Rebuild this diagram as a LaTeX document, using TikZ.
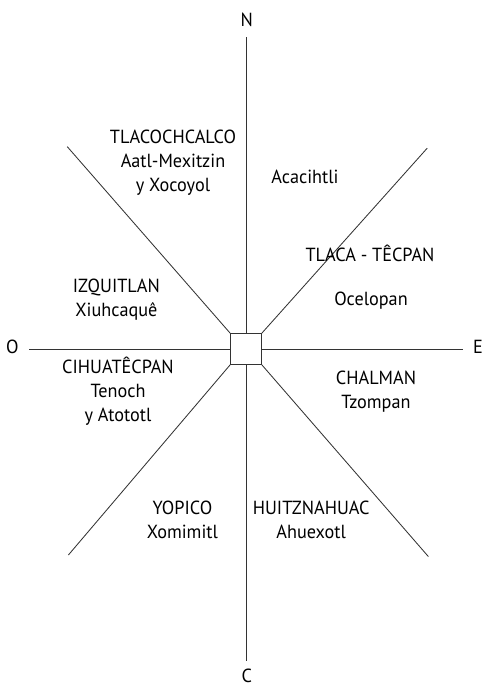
\documentclass[tikz,border=0pt]{standalone}
\usepackage{fontspec}
\setmainfont{PT Sans}[FakeStretch=0.96]
\begin{document}
\begin{tikzpicture}[
    eje/.style={draw=black!80, line width=0.6pt},
    barrio/.style={align=center, inner sep=0pt, font=\fontsize{13.5}{17}\selectfont}
  ]
  \useasboundingbox (-6.15,-8.425) rectangle (5.95,8.725);

  % centro
  \node[eje, minimum size=0.775cm, inner sep=0pt] (centro) at (0,0) {};

  % extremos de los ejes
  \coordinate (pN) at (0,7.8);
  \coordinate (pC) at (0,-7.8);
  \coordinate (pO) at (-5.425,0);
  \coordinate (pE) at (5.425,0);
  \coordinate (pNO) at (-4.47,5.06);
  \coordinate (pNE) at (4.53,5.02);
  \coordinate (pSO) at (-4.44,-5.15);
  \coordinate (pSE) at (4.56,-5.19);

  \foreach \a/\p in {north/pN, south/pC, west/pO, east/pE,
                     north west/pNO, north east/pNE, south west/pSO, south east/pSE}
    \draw[eje] (centro.\a) -- (\p);

  % rumbos
  \node[barrio] (rN) at (0.02,8.22) {N};
  \node[barrio] (rC) at (0.02,-8.17) {C};
  \node[barrio] (rO) at (-5.84,0.05) {O};
  \node[barrio] (rE) at (5.8,0.05) {E};

  % barrios y capitanes
  \node[barrio] (tlacochcalco) at (-1.825,4.65) {TLACOCHCALCO\\ Aatl-Mexitzin\\ y Xocoyol};
  \node[barrio] (acacihtli) at (1.475,4.3) {Acacihtli};
  \node[barrio] (tlacatecpan) at (3.1,2.39) {TLACA - TÊCPAN};
  \node[barrio] (ocelopan) at (3.125,1.2) {Ocelopan};
  \node[barrio] (izquitlan) at (-3.24,1.235) {IZQUITLAN\\ Xiuhcaquê};
  \node[barrio] (cihuatecpan) at (-3.2,-1.06) {CIHUATÊCPAN\\ Tenoch\\ y Atototl};
  \node[barrio] (chalman) at (3.25,-1.06) {CHALMAN\\ Tzompan};
  \node[barrio] (yopico) at (-1.59,-4.275) {YOPICO\\ Xomimitl};
  \node[barrio] (huitznahuac) at (1.63,-4.275) {HUITZNAHUAC\\ Ahuexotl};
\end{tikzpicture}
\end{document}
